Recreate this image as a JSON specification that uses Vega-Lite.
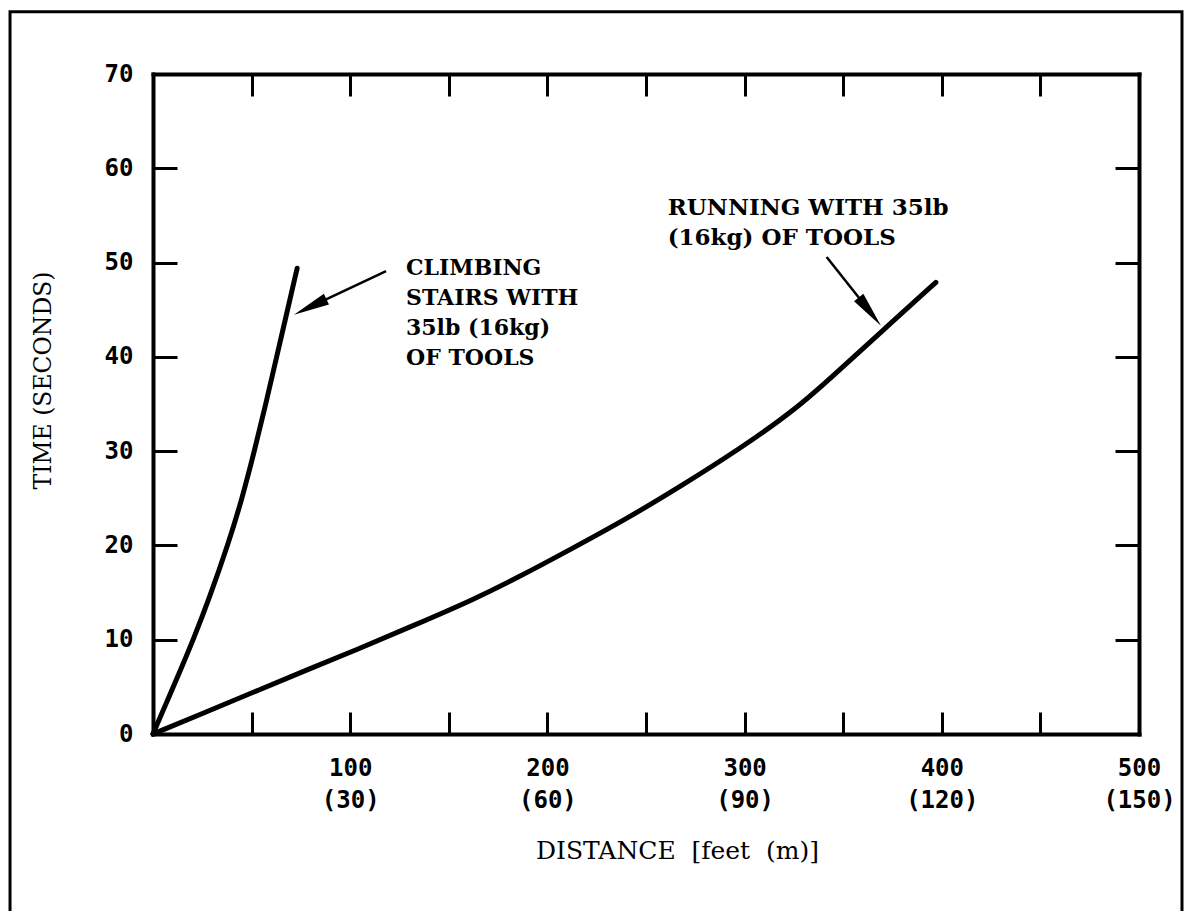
{
  "$schema": "https://vega.github.io/schema/vega-lite/v6.json",
  "width": 986,
  "height": 660,
  "autosize": {"type": "none"},
  "padding": {"left": 153, "top": 74, "right": 45, "bottom": 177},
  "background": "white",
  "config": {
    "view": {"stroke": null},
    "axis": {
      "domainColor": "black",
      "domainWidth": 4,
      "domainCap": "square",
      "tickColor": "black",
      "tickWidth": 3,
      "grid": false,
      "labelColor": "black",
      "titleColor": "black",
      "labelFlush": false,
      "labelOverlap": false
    }
  },
  "datasets": {
    "curves": [
      {"series": "climbing", "distance": 0, "time": 0},
      {"series": "climbing", "distance": 7.4, "time": 3.6},
      {"series": "climbing", "distance": 14.6, "time": 7.1},
      {"series": "climbing", "distance": 20.4, "time": 10},
      {"series": "climbing", "distance": 28.2, "time": 14.2},
      {"series": "climbing", "distance": 38.4, "time": 20.3},
      {"series": "climbing", "distance": 45.2, "time": 25},
      {"series": "climbing", "distance": 51.4, "time": 30},
      {"series": "climbing", "distance": 57.2, "time": 35},
      {"series": "climbing", "distance": 62.7, "time": 40},
      {"series": "climbing", "distance": 67.8, "time": 44.6},
      {"series": "climbing", "distance": 73.1, "time": 49.4},
      {"series": "running", "distance": 0, "time": 0},
      {"series": "running", "distance": 30, "time": 2.6},
      {"series": "running", "distance": 54, "time": 4.7},
      {"series": "running", "distance": 78, "time": 6.8},
      {"series": "running", "distance": 103, "time": 8.9},
      {"series": "running", "distance": 132, "time": 11.5},
      {"series": "running", "distance": 162, "time": 14.2},
      {"series": "running", "distance": 186, "time": 16.7},
      {"series": "running", "distance": 211, "time": 19.5},
      {"series": "running", "distance": 240, "time": 22.8},
      {"series": "running", "distance": 267, "time": 26.2},
      {"series": "running", "distance": 298, "time": 30.3},
      {"series": "running", "distance": 327, "time": 34.6},
      {"series": "running", "distance": 348, "time": 38.6},
      {"series": "running", "distance": 369, "time": 42.6},
      {"series": "running", "distance": 397, "time": 47.9}
    ],
    "arrows": [
      {"label": "climbing", "tailx": 118.2, "taily": 49.1, "headx": 79.7, "heady": 45.3},
      {"label": "running", "tailx": 341.6, "taily": 50.6, "headx": 363.5, "heady": 44.8}
    ],
    "anchor": [{"note": "annotation"}]
  },
  "layer": [
    {
      "data": {"name": "curves"},
      "mark": {"type": "line", "color": "black", "strokeWidth": 5, "interpolate": "basis", "strokeCap": "round"},
      "encoding": {
        "x": {
          "field": "distance",
          "type": "quantitative",
          "scale": {"domain": [0, 500], "nice": false, "zero": false},
          "axis": {
            "orient": "bottom",
            "values": [50, 100, 150, 200, 250, 300, 350, 400, 450, 500],
            "format": "d",
            "labelExpr": "datum.value % 100 === 0 ? [datum.label, '(' + (datum.value * 3 / 10) + ')'] : ''",
            "tickSize": -22,
            "labelPadding": 44,
            "labelFont": "DejaVu Sans Mono",
            "labelFontWeight": "bold",
            "labelFontSize": 24,
            "labelLineHeight": 32,
            "title": "DISTANCE\u00a0\u00a0[feet\u00a0\u00a0(m)]",
            "titleFont": "DejaVu Serif",
            "titleFontWeight": "normal",
            "titleFontSize": 25,
            "titleX": 524,
            "titleY": 124,
            "titleAlign": "center",
            "titleBaseline": "alphabetic"
          }
        },
        "y": {
          "field": "time",
          "type": "quantitative",
          "scale": {"domain": [0, 70], "nice": false},
          "axis": {
            "orient": "left",
            "values": [0, 10, 20, 30, 40, 50, 60, 70],
            "format": "d",
            "tickSize": -24,
            "labelPadding": 44,
            "labelFont": "DejaVu Sans Mono",
            "labelFontWeight": "bold",
            "labelFontSize": 24,
            "title": "TIME (SECONDS)",
            "titleFont": "DejaVu Serif",
            "titleFontWeight": "normal",
            "titleFontSize": 23.5,
            "titleX": -110,
            "titleY": 306,
            "titleAngle": -90,
            "titleAlign": "center",
            "titleBaseline": "middle"
          }
        },
        "detail": {"field": "series"}
      }
    },
    {
      "data": {"name": "arrows"},
      "mark": {"type": "rule", "color": "black", "strokeWidth": 2.5},
      "encoding": {
        "x": {
          "field": "tailx",
          "type": "quantitative",
          "scale": {"domain": [0, 500], "nice": false, "zero": false},
          "axis": {"orient": "top", "values": [50, 100, 150, 200, 250, 300, 350, 400, 450], "labels": false, "tickSize": -22, "title": null}
        },
        "y": {
          "field": "taily",
          "type": "quantitative",
          "scale": {"domain": [0, 70], "nice": false},
          "axis": {"orient": "right", "values": [10, 20, 30, 40, 50, 60], "labels": false, "tickSize": -24, "title": null}
        },
        "x2": {"field": "headx"},
        "y2": {"field": "heady"}
      }
    },
    {
      "data": {"name": "anchor"},
      "mark": {"type": "point", "shape": "M0,-1L0.33,1L-0.33,1Z", "size": 1296, "filled": true, "color": "black", "opacity": 1, "angle": 244.5},
      "encoding": {
        "x": {"datum": 79.7, "type": "quantitative", "axis": null, "scale": {"domain": [0, 500], "nice": false, "zero": false}},
        "y": {"datum": 45.3, "type": "quantitative", "axis": null, "scale": {"domain": [0, 70], "nice": false}}
      }
    },
    {
      "data": {"name": "anchor"},
      "mark": {"type": "point", "shape": "M0,-1L0.33,1L-0.33,1Z", "size": 1296, "filled": true, "color": "black", "opacity": 1, "angle": 141.8},
      "encoding": {
        "x": {"datum": 363.5, "type": "quantitative", "axis": null, "scale": {"domain": [0, 500], "nice": false, "zero": false}},
        "y": {"datum": 44.8, "type": "quantitative", "axis": null, "scale": {"domain": [0, 70], "nice": false}}
      }
    },
    {
      "data": {"name": "anchor"},
      "mark": {"type": "rect", "fill": null, "filled": false, "stroke": "black", "strokeWidth": 3, "clip": false},
      "encoding": {
        "x": {"datum": -72.5, "type": "quantitative", "axis": null, "scale": {"domain": [0, 500], "nice": false, "zero": false}},
        "x2": {"datum": 521.8},
        "y": {"datum": 76.6, "type": "quantitative", "axis": null, "scale": {"domain": [0, 70], "nice": false}},
        "y2": {"datum": -20}
      }
    },
    {
      "data": {"name": "anchor"},
      "mark": {"type": "text", "text": ["CLIMBING", "STAIRS WITH", "35lb (16kg)", "OF TOOLS"], "align": "left", "baseline": "alphabetic", "font": "DejaVu Serif", "fontWeight": "bold", "fontSize": 22, "lineHeight": 30, "color": "black"},
      "encoding": {
        "x": {"datum": 128.3, "type": "quantitative", "axis": null, "scale": {"domain": [0, 500], "nice": false, "zero": false}},
        "y": {"datum": 48.7, "type": "quantitative", "axis": null, "scale": {"domain": [0, 70], "nice": false}}
      }
    },
    {
      "data": {"name": "anchor"},
      "mark": {"type": "text", "text": ["RUNNING WITH 35lb", "(16kg) OF TOOLS"], "align": "left", "baseline": "alphabetic", "font": "DejaVu Serif", "fontWeight": "bold", "fontSize": 23, "lineHeight": 30, "color": "black"},
      "encoding": {
        "x": {"datum": 261, "type": "quantitative", "axis": null, "scale": {"domain": [0, 500], "nice": false, "zero": false}},
        "y": {"datum": 55.0, "type": "quantitative", "axis": null, "scale": {"domain": [0, 70], "nice": false}}
      }
    }
  ],
  "resolve": {"axis": {"x": "independent", "y": "independent"}}
}
